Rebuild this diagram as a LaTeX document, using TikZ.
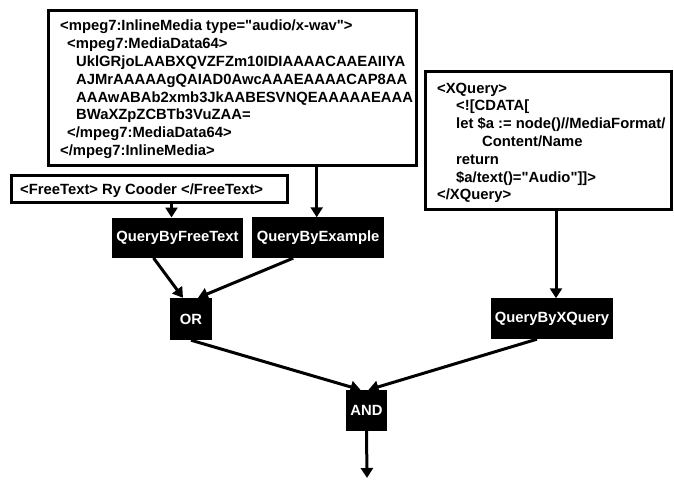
\documentclass[tikz,border=0pt]{standalone}
\usepackage{fontspec}
\setmainfont{Liberation Sans}
\newfontfamily\lsans{Liberation Sans}
\usetikzlibrary{arrows.meta,calc}
\begin{document}
\begin{tikzpicture}[x=1pt,y=-1pt,
  every node/.style={font=\lsans\fontsize{14.8}{17.8}\selectfont\bfseries},
  wbox/.style={draw=black,line width=3pt,fill=white,inner sep=0pt,minimum width=#1},
  bbox/.style={fill=black,text=white,inner sep=0pt},
  codetext/.style={inner sep=0pt,align=left,anchor=north west},
  arr/.style={line width=3pt,-{Triangle[length=10pt,width=12pt]}}]
\useasboundingbox (0,0) rectangle (674,479);
% white boxes
\node[wbox=367.5pt,minimum height=155pt] (inline) at (232.25,87.5) {};
\node[codetext] (inlinetext) at (60,20) {%
<mpeg7:InlineMedia type="audio/x-wav">\\
\hspace*{7pt}<mpeg7:MediaData64>\\
\hspace*{16pt}UklGRjoLAABXQVZFZm10IDIAAAACAAEAIIYA\\
\hspace*{16pt}AJMrAAAAAgQAIAD0AwcAAAEAAAACAP8AA\\
\hspace*{16pt}AAAwABAb2xmb3JkAABESVNQEAAAAAEAAA\\
\hspace*{16pt}BWaXZpZCBTb3VuZAA=\\
\hspace*{7pt}</mpeg7:MediaData64>\\
</mpeg7:InlineMedia>};
\node[wbox=246pt,minimum height=138.5pt] (xquery) at (548,140.25) {};
\node[codetext] (xquerytext) at (437,82.5) {%
<XQuery>\\
\hspace*{19pt}<![CDATA[\\
\hspace*{19pt}let \$a := node()//MediaFormat/\\
\hspace*{45pt}Content/Name\\
\hspace*{19pt}return\\
\hspace*{19pt}\$a/text()="Audio"]]>\\
</XQuery>};
\node[wbox=275.5pt,minimum height=27.5pt] (freetext) at (149.25,188.75) {};
\node[inner sep=0pt,anchor=base west] (freetexttext) at (20,194) {<FreeText> Ry Cooder </FreeText>};
% black boxes
\node[bbox,minimum width=131.6pt,minimum height=40pt] (qbft) at (177.5,237.7) {QueryByFreeText};
\node[bbox,minimum width=131.7pt,minimum height=40.5pt] (qbe) at (318.2,237.7) {QueryByExample};
\node[bbox,minimum width=42pt,minimum height=42pt] (or) at (191,319) {OR};
\node[bbox,minimum width=122pt,minimum height=40.5pt] (qbxq) at (552,318.7) {QueryByXQuery};
\node[bbox,minimum width=41pt,minimum height=41pt] (and) at (366.5,410.5) {AND};
\coordinate (out) at (367,478);
% connectors
\draw[arr] ([xshift=-1.5pt]inline.south -| qbe.north) -- ([xshift=-1.5pt]qbe.north);
\draw[arr] ([xshift=4pt]xquery.south -| qbxq.north) -- ([xshift=4pt]qbxq.north);
\draw[arr] ([xshift=-6pt]freetext.south -| qbft.north) -- ([xshift=-6pt]qbft.north);
\draw[arr] ([xshift=-24pt]qbft.south) -- ([xshift=-8pt]or.north);
\draw[arr] ([xshift=-25pt]qbe.south) -- ([xshift=7pt]or.north);
\draw[arr] (or.south) -- ([xshift=-6pt]and.north);
\draw[arr] ([xshift=-15pt]qbxq.south) -- ([xshift=2pt]and.north);
\draw[arr] (and.south) -- (out);
\end{tikzpicture}
\end{document}
